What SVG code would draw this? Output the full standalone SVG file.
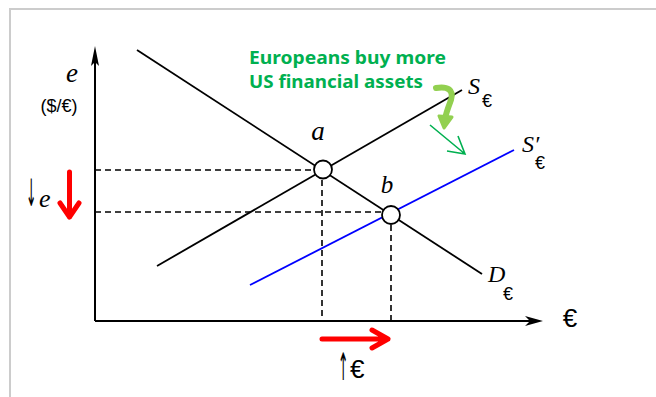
<svg xmlns="http://www.w3.org/2000/svg" width="656" height="397" viewBox="0 0 656 397">
<defs>
<style>
.ax{stroke:#000;stroke-width:2;fill:none}
.ln{stroke:#000;stroke-width:1.8;fill:none}
.dash{stroke:#000;stroke-width:1.6;stroke-dasharray:6,4;fill:none}
.pt{fill:#fff;stroke:#000;stroke-width:1.8}
.it{font-family:"Liberation Serif",serif;font-style:italic;fill:#000}
.up{font-family:"Liberation Sans",sans-serif;font-style:normal;fill:#000}
.arr{font-family:"DejaVu Sans",sans-serif;fill:#000}
.red{stroke:#ff0000;stroke-width:5;fill:none;stroke-linecap:round;stroke-linejoin:round}
.gt{font-family:"Noto Sans","Liberation Sans",sans-serif;font-weight:bold;fill:#00b050;font-size:18px}
</style>
</defs>
<rect x="10" y="9" width="660" height="400" fill="#fff" stroke="#cccccc" stroke-width="2"/>
<g id="axes">
<line class="ax" x1="95" y1="321" x2="95" y2="56"/>
<path d="M95,46 L99,66 L95,62 L91,66 Z" fill="#000"/>
<line class="ax" x1="95" y1="321" x2="535" y2="321"/>
<path d="M543,321 L525,316 L530,321 L525,326 Z" fill="#000"/>
</g>
<g id="connectors">
<line class="dash" x1="95" y1="170" x2="323" y2="170"/>
<line class="dash" x1="95" y1="212" x2="391" y2="212"/>
<line class="dash" x1="322" y1="170" x2="322" y2="321"/>
<line class="dash" x1="391" y1="215" x2="391" y2="321"/>
</g>
<g id="demand">
<line class="ln" x1="137" y1="50" x2="482" y2="274"/>
<text class="it" x="488" y="282" font-size="24">D<tspan class="up" x="503" y="300" font-size="18">€</tspan></text>
</g>
<g id="supply">
<line class="ln" x1="157" y1="266" x2="462" y2="90"/>
<text class="it" x="468" y="94" font-size="24">S<tspan class="up" x="482" y="107" font-size="18">€</tspan></text>
</g>
<g id="supply2">
<line x1="250" y1="285" x2="514" y2="150" stroke="#0000ff" stroke-width="1.8"/>
<text class="it" x="522" y="152" font-size="24">S′<tspan class="up" x="535" y="169" font-size="18">€</tspan></text>
</g>
<g id="point-a">
<circle class="pt" cx="323" cy="169.5" r="9"/>
<text class="it" x="318" y="140" font-size="27" text-anchor="middle">a</text>
</g>
<g id="point-b">
<circle class="pt" cx="391" cy="215" r="9"/>
<text class="it" x="387" y="193" font-size="25" text-anchor="middle">b</text>
</g>
<g id="y-label">
<text class="it" x="72" y="82" font-size="27" text-anchor="middle">e</text>
<text class="up" x="59" y="112" font-size="18" text-anchor="middle">($/€)</text>
</g>
<g id="x-label">
<text class="up" x="570" y="327" font-size="26" text-anchor="middle">€</text>
</g>
<g id="e-down">
<text class="arr" transform="translate(26,206) scale(0.7,2.1)" font-size="18">↓</text>
<text class="it" x="39" y="207" font-size="26">e</text>
<path class="red" d="M69.5,172 L69.5,217 M60,203 L69.5,217 L79,203"/>
</g>
<g id="euro-up">
<path class="red" d="M322,339 L388,339 M372,330 L388,339 L372,348"/>
<text class="arr" transform="translate(338,380) scale(0.7,2.1)" font-size="18">↑</text>
<text class="up" x="350" y="378" font-size="26">€</text>
</g>
<g id="note">
<text class="gt" x="249" y="64" textLength="197" lengthAdjust="spacingAndGlyphs">Europeans buy more</text>
<text class="gt" x="249" y="88" textLength="174" lengthAdjust="spacingAndGlyphs">US financial assets</text>
<path d="M436,88 C448,86 454,90 451,100 C448,108 446,113 445,119" stroke="#92d050" stroke-width="6" fill="none" stroke-linecap="round"/>
<path d="M439,116 L452,117 L444,128 Z" fill="#92d050" stroke="#92d050" stroke-width="3" stroke-linejoin="round"/>
</g>
<g id="shift-arrow">
<path d="M430,125 L465,154 M458,136 L465,154 L447,151" stroke="#00b050" stroke-width="1.6" fill="none"/>
</g>
</svg>
